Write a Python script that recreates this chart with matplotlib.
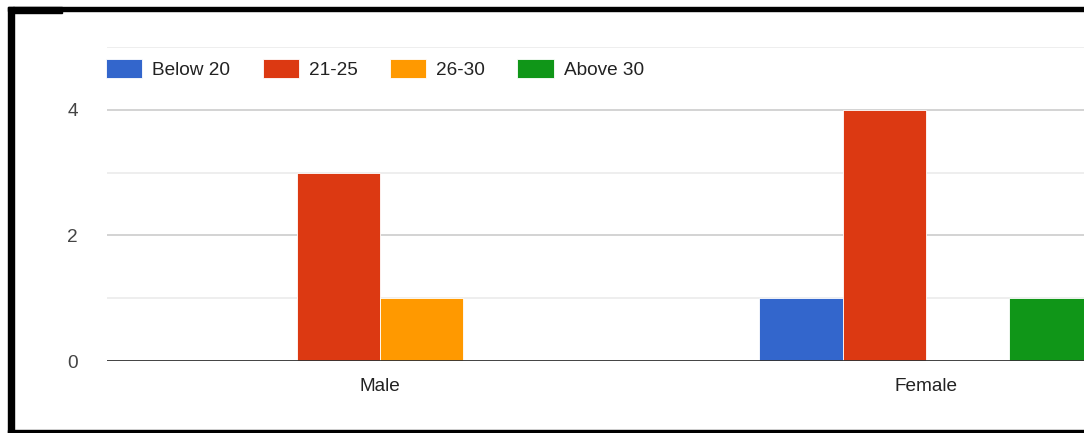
import matplotlib
matplotlib.use('Agg')
import matplotlib.pyplot as plt
from matplotlib.patches import Rectangle
import numpy as np

plt.rcParams['font.family'] = ['Liberation Sans', 'DejaVu Sans']

# data
genders = ['Male', 'Female']
age_groups = ['Below 20', '21-25', '26-30', 'Above 30']
counts = {
    'Below 20': [0, 1],
    '21-25': [3, 4],
    '26-30': [1, 0],
    'Above 30': [0, 1],
}
y_ticks = [0, 2, 4]
colors = ['#3366CC', '#DC3912', '#FF9900', '#109618']

W, H = 1084, 433
fig = plt.figure(figsize=(W / 100, H / 100), dpi=100)
fig.patch.set_facecolor('white')

# the plot area runs past the right edge of the picture (chart is cropped)
ax = fig.add_axes([107 / W, 72 / H, 1092 / W, 314 / H])
ax.set_xlim(-0.5, len(genders) - 0.5)
ax.set_ylim(0, 5)

x = np.arange(len(genders))
bw = 0.1527
for j, (grp, col) in enumerate(zip(age_groups, colors)):
    ax.bar(x + (j - 1.5) * bw, counts[grp], width=bw, color=col,
           edgecolor='white', linewidth=0.6, label=grp, zorder=3)

# gridlines: darker on labelled ticks, lighter in between
for v in [1, 3, 5]:
    ax.axhline(v, color='#ebebeb', lw=1.2, zorder=1)
for v in [2, 4]:
    ax.axhline(v, color='#cccccc', lw=1.2, zorder=1)
ax.axhline(0, color='#333333', lw=1.3, zorder=4)

for s in ax.spines.values():
    s.set_visible(False)
ax.set_yticks(y_ticks)
ax.set_yticklabels([str(t) for t in y_ticks])
ax.set_xticks(x)
ax.set_xticklabels(genders)
ax.tick_params(axis='both', length=0, labelsize=13.7)
ax.tick_params(axis='y', pad=21, labelcolor='#444444')
ax.tick_params(axis='x', pad=12, labelcolor='#222222')

leg = fig.legend(loc='center left', bbox_to_anchor=(106 / W, 1 - 69 / H),
                 ncol=4, frameon=False, fontsize=13.7, handlelength=1.9,
                 handleheight=1.2, handletextpad=0.53, columnspacing=1.7,
                 borderpad=0, borderaxespad=0)
for t in leg.get_texts():
    t.set_color('#222222')

# black frame around the screenshot
for (x0, y0, w, h) in [(8, 7, 1076, 4), (8, 7, 6, 426), (13, 7, 49, 6), (8, 430, 1076, 3)]:
    fig.patches.append(Rectangle((x0 / W, 1 - (y0 + h) / H), w / W, h / H,
                                 transform=fig.transFigure, color='black', zorder=10))

fig.savefig('out.png', dpi=100)
